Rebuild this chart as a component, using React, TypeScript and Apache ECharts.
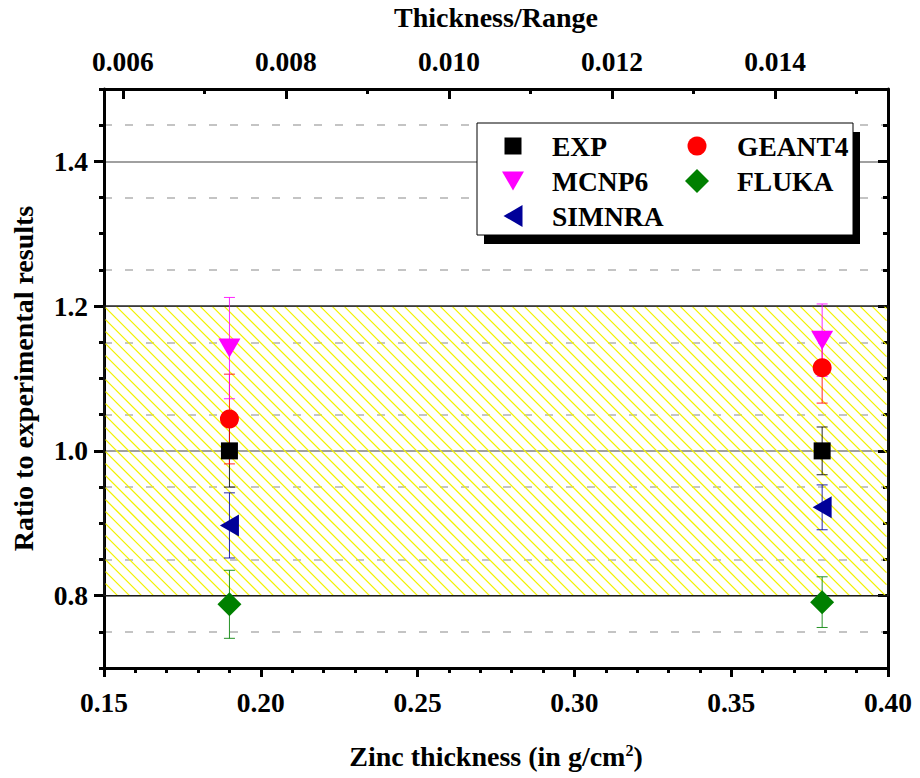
import React, { useEffect, useRef } from "react";
import * as echarts from "echarts";

// ---- data ----
const zincThickness = [0.19, 0.379]; // g/cm^2
const zincRange = 26; // g/cm^2, top axis = thickness / range
const seriesNames = ["EXP", "GEANT4", "MCNP6", "FLUKA", "SIMNRA"];
const expRatio = [1.0, 1.0];
const expErr = [0.05, 0.033];
const geant4Ratio = [1.044, 1.115];
const geant4Err = [0.062, 0.049];
const mcnp6Ratio = [1.142, 1.153];
const mcnp6Err = [0.07, 0.05];
const flukaRatio = [0.788, 0.791];
const flukaErr = [0.047, 0.035];
const simnraRatio = [0.897, 0.922];
const simnraErr = [0.045, 0.031];
const agreementBand = [0.8, 1.2];
const yMajorTicks = [0.8, 1.0, 1.2, 1.4];
const topMajorTicks = [0.006, 0.008, 0.01, 0.012, 0.014];
const topMinorTicks = [0.007, 0.009, 0.011, 0.013, 0.015];

const FONT = "Liberation Serif";
const FS = 27.5;
const FS_TITLE = 28;
const colors: Record<string, string> = {
  EXP: "#000000",
  GEANT4: "#ff0000",
  MCNP6: "#ff00ff",
  FLUKA: "#008000",
  SIMNRA: "#000099",
};
const symbols: Record<string, any> = {
  EXP: { symbol: "rect", size: [17, 17] },
  GEANT4: { symbol: "circle", size: 19 },
  MCNP6: { symbol: "path://M0,0 L22,0 L11,19 Z", size: [22, 19] },
  FLUKA: { symbol: "diamond", size: [24, 24] },
  SIMNRA: { symbol: "path://M19,0 L19,22 L0,11 Z", size: [19, 22] },
};
const values: Record<string, number[]> = {
  EXP: expRatio,
  GEANT4: geant4Ratio,
  MCNP6: mcnp6Ratio,
  FLUKA: flukaRatio,
  SIMNRA: simnraRatio,
};
const errors: Record<string, number[]> = {
  EXP: expErr,
  GEANT4: geant4Err,
  MCNP6: mcnp6Err,
  FLUKA: flukaErr,
  SIMNRA: simnraErr,
};

const X_MIN = 0.15;
const X_MAX = 0.4;
const Y_MIN = 0.7;
const Y_MAX = 1.5;

function errorBarRender(color: string) {
  return (params: any, api: any) => {
    const x = api.value(0);
    const y = api.value(1);
    const e = api.value(2);
    const top = api.coord([x, y + e]);
    const bot = api.coord([x, y - e]);
    const hw = 5.5;
    const st = { stroke: color, lineWidth: 1, opacity: 0.85 };
    return {
      type: "group",
      children: [
        { type: "line", shape: { x1: top[0], y1: top[1], x2: bot[0], y2: bot[1] }, style: st },
        { type: "line", shape: { x1: top[0] - hw, y1: top[1], x2: top[0] + hw, y2: top[1] }, style: st },
        { type: "line", shape: { x1: bot[0] - hw, y1: bot[1], x2: bot[0] + hw, y2: bot[1] }, style: st },
      ],
    };
  };
}

function hatchRender(params: any, api: any) {
  const lo = api.value(0);
  const hi = api.value(1);
  const cs = params.coordSys;
  const yTop = api.coord([X_MIN, hi])[1];
  const yBot = api.coord([X_MIN, lo])[1];
  const x0 = cs.x + 1.5;
  const w = cs.width - 3;
  const h = yBot - yTop;
  const children: any[] = [];
  const step = 12;
  for (let c = -h; c < w; c += step) {
    const tmin = Math.max(0, -c);
    const tmax = Math.min(h, w - c);
    if (tmax > tmin) {
      children.push({
        type: "line",
        shape: { x1: x0 + c + tmin, y1: yTop + tmin, x2: x0 + c + tmax, y2: yTop + tmax },
        style: { stroke: "#f2f200", lineWidth: 1.3 },
      });
    }
  }
  children.push({
    type: "rect",
    shape: { x: cs.x, y: yTop, width: cs.width, height: h },
    style: { fill: "none", stroke: "#1a1a1a", lineWidth: 1.3 },
  });
  return { type: "group", children };
}

function legendGraphic() {
  const bx = 477, by = 123, bw = 376, bh = 112;
  const els: any[] = [
    { type: "rect", z: 100, shape: { x: bx + 7, y: by + 9, width: bw, height: bh }, style: { fill: "#000" } },
    { type: "rect", z: 101, shape: { x: bx, y: by, width: bw, height: bh }, style: { fill: "#fff", stroke: "#000", lineWidth: 1 } },
  ];
  const layout: Record<string, [number, number]> = {
    EXP: [0, 0],
    GEANT4: [1, 0],
    MCNP6: [0, 1],
    FLUKA: [1, 1],
    SIMNRA: [0, 2],
  };
  const colIcon = [513, 697];
  const colText = [552, 737];
  const rowY = [146, 181, 216];
  seriesNames.forEach((name) => {
    const [c, r] = layout[name];
    const cx = colIcon[c];
    const cy = rowY[r];
    const fill = colors[name];
    let icon: any;
    if (name === "EXP") icon = { type: "rect", shape: { x: cx - 8.5, y: cy - 8.5, width: 17, height: 17 } };
    else if (name === "GEANT4") icon = { type: "circle", shape: { cx, cy, r: 9.5 } };
    else if (name === "MCNP6")
      icon = { type: "polygon", shape: { points: [[cx - 11, cy - 9.5], [cx + 11, cy - 9.5], [cx, cy + 9.5]] } };
    else if (name === "FLUKA")
      icon = { type: "polygon", shape: { points: [[cx, cy - 12], [cx + 12, cy], [cx, cy + 12], [cx - 12, cy]] } };
    else icon = { type: "polygon", shape: { points: [[cx + 9.5, cy - 11], [cx + 9.5, cy + 11], [cx - 9.5, cy]] } };
    icon.z = 102;
    icon.style = { fill };
    els.push(icon);
    els.push({
      type: "text",
      z: 102,
      x: colText[c],
      y: cy,
      style: {
        text: name,
        fontFamily: FONT,
        fontWeight: "bold",
        fontSize: FS,
        fill: "#000",
        verticalAlign: "middle",
        align: "left",
      },
    });
  });
  return els;
}

export default function App() {
  const ref = useRef<HTMLDivElement>(null);
  useEffect(() => {
    if (!ref.current) return;
    const chart = echarts.init(ref.current, undefined, { renderer: "svg" });
    const labelStyle = { fontFamily: FONT, fontWeight: "bold" as const, fontSize: FS, color: "#000" };
    const titleStyle = { ...labelStyle, fontSize: FS_TITLE };
    const blackLine = { show: true, lineStyle: { color: "#000", width: 3 } };

    const scatterSeries = seriesNames.map((name) => ({
      type: "scatter",
      name,
      z: 5,
      symbol: symbols[name].symbol,
      symbolSize: symbols[name].size,
      itemStyle: { color: colors[name], opacity: 1 },
      data: zincThickness.map((x, i) => [x, values[name][i]]),
    }));
    const errSeries = seriesNames.map((name) => ({
      type: "custom",
      name: name + " error",
      z: 4,
      renderItem: errorBarRender(colors[name]),
      data: zincThickness.map((x, i) => [x, values[name][i], errors[name][i]]),
    }));

    const option: any = {
      animation: false,
      backgroundColor: "#fff",
      textStyle: { fontFamily: FONT },
      grid: { left: 104, right: 32, top: 89, bottom: 110, containLabel: false, outerBoundsMode: "none" },
      xAxis: [
        {
          type: "value",
          position: "bottom",
          min: X_MIN,
          max: X_MAX,
          interval: 0.05,
          name: "Zinc thickness (in g/cm{sup|2})",
          nameLocation: "middle",
          nameGap: 74,
          nameTextStyle: {
            ...titleStyle,
            rich: { sup: { fontFamily: FONT, fontWeight: "bold", fontSize: 16, verticalAlign: "top", lineHeight: 14, color: "#000" } },
          },
          axisLine: blackLine,
          axisTick: { show: true, inside: false, length: 9, lineStyle: { color: "#000", width: 3 } },
          minorTick: { show: true, splitNumber: 5, length: 5, lineStyle: { color: "#000", width: 3 } },
          axisLabel: { ...labelStyle, margin: 20, formatter: (v: number) => v.toFixed(2) },
          splitLine: { show: false },
        },
        {
          type: "value",
          position: "top",
          min: X_MIN / zincRange,
          max: X_MAX / zincRange,
          name: "Thickness/Range",
          nameLocation: "middle",
          nameGap: 58,
          nameTextStyle: titleStyle,
          axisLine: blackLine,
          axisTick: { show: true, inside: true, length: 10, customValues: topMajorTicks, lineStyle: { color: "#000", width: 3 } },
          axisLabel: { ...labelStyle, margin: 14, customValues: topMajorTicks, formatter: (v: number) => v.toFixed(3) },
          splitLine: { show: false },
        },
        {
          type: "value",
          position: "top",
          min: X_MIN / zincRange,
          max: X_MAX / zincRange,
          axisLine: { show: false },
          axisTick: { show: true, inside: true, length: 5, customValues: topMinorTicks, lineStyle: { color: "#000", width: 3 } },
          axisLabel: { show: false },
          splitLine: { show: false },
        },
      ],
      yAxis: [
        {
          type: "value",
          position: "left",
          min: Y_MIN,
          max: Y_MAX,
          interval: 0.05,
          axisLine: blackLine,
          axisTick: { show: true, inside: false, length: 5, lineStyle: { color: "#000", width: 3 } },
          axisLabel: { show: false },
          splitLine: {
            show: true,
            lineStyle: {
              color: ["rgba(0,0,0,0)", "#c4c4c4", "rgba(0,0,0,0)", "#c4c4c4"],
              width: 2,
              type: [8, 13],
            },
          },
        },
        {
          type: "value",
          position: "left",
          min: Y_MIN,
          max: Y_MAX,
          name: "Ratio to experimental results",
          nameLocation: "middle",
          nameGap: 67,
          nameTextStyle: titleStyle,
          axisLine: { show: false },
          axisTick: { show: true, inside: false, length: 10, customValues: yMajorTicks, lineStyle: { color: "#000", width: 3 } },
          axisLabel: { ...labelStyle, margin: 16, customValues: yMajorTicks, formatter: (v: number) => v.toFixed(1) },
          splitLine: { show: true, lineStyle: { color: "#808080", width: 1.5 } },
        },
        {
          type: "value",
          position: "right",
          min: Y_MIN,
          max: Y_MAX,
          interval: 0.05,
          axisLine: blackLine,
          axisTick: { show: true, inside: true, length: 5, lineStyle: { color: "#000", width: 3 } },
          axisLabel: { show: false },
          splitLine: { show: false },
        },
        {
          type: "value",
          position: "right",
          min: Y_MIN,
          max: Y_MAX,
          axisLine: { show: false },
          axisTick: { show: true, inside: true, length: 10, customValues: yMajorTicks, lineStyle: { color: "#000", width: 3 } },
          axisLabel: { show: false },
          splitLine: { show: false },
        },
      ],
      series: [
        {
          type: "custom",
          name: "agreement band",
          z: 2,
          renderItem: hatchRender,
          data: [[agreementBand[0], agreementBand[1]]],
          encode: { x: -1, y: [0, 1] },
          silent: true,
        },
        ...errSeries,
        ...scatterSeries,
      ],
      graphic: legendGraphic(),
    };
    chart.setOption(option);
    return () => chart.dispose();
  }, []);
  return <div ref={ref} style={{ position: "absolute", left: 0, top: 0, width: 920, height: 778 }} />;
}
